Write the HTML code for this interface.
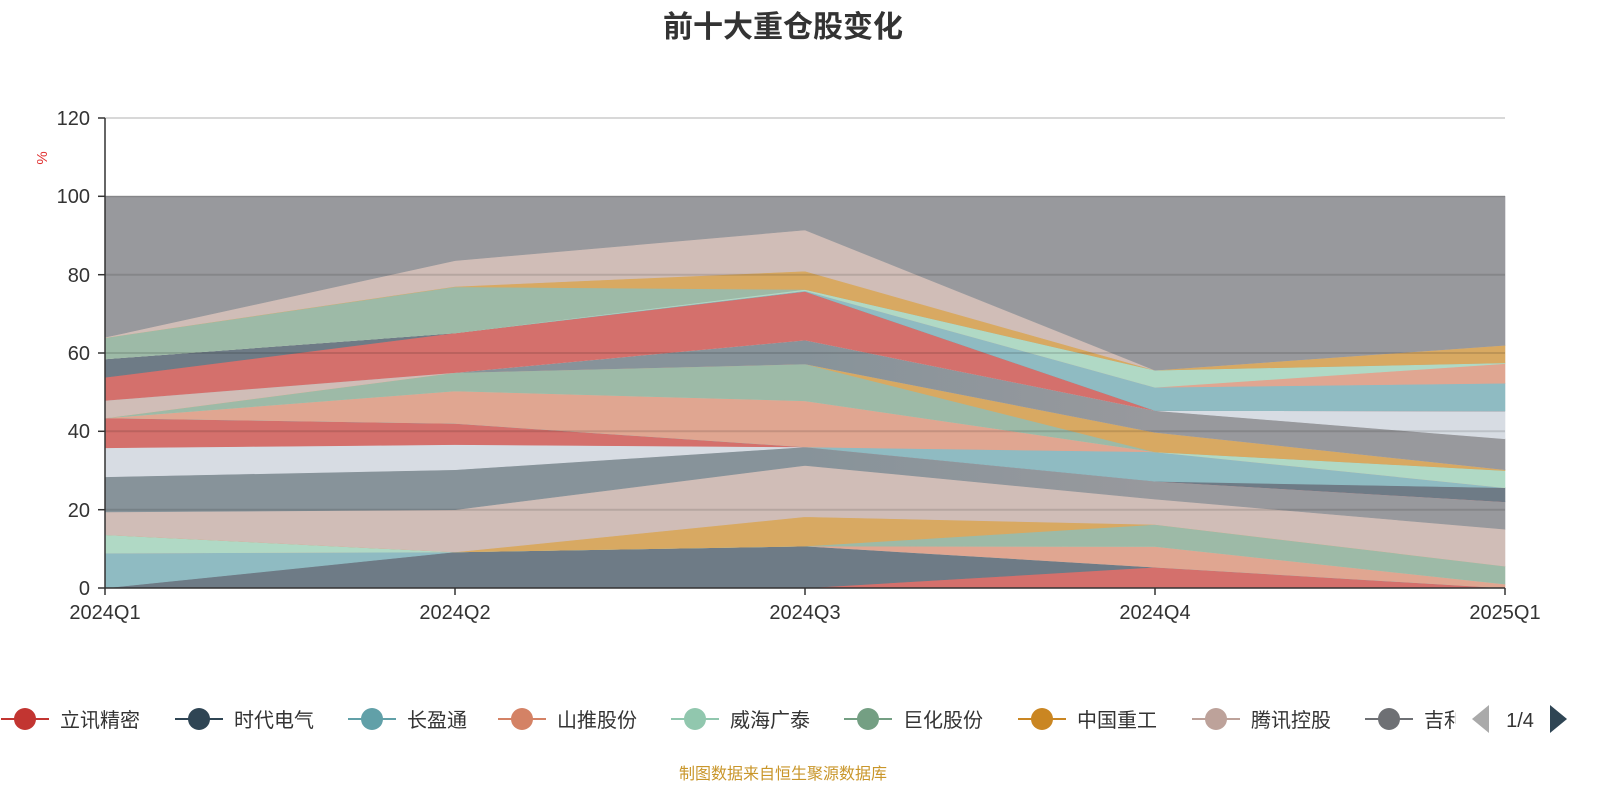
<!DOCTYPE html>
<html><head><meta charset="utf-8"><style>
html,body{margin:0;padding:0;background:#fff;}
svg{display:block;font-family:"Liberation Sans","Noto Sans CJK SC",sans-serif;}
</style></head><body>
<svg id="c" width="1600" height="800" viewBox="0 0 1600 800" xmlns="http://www.w3.org/2000/svg">
<defs>
<linearGradient id="sg" gradientUnits="userSpaceOnUse" x1="105" y1="0" x2="1505" y2="0">
<stop offset="0" stop-color="#87939a"/><stop offset="0.5" stop-color="#87939a"/><stop offset="0.75" stop-color="#98999d"/><stop offset="1" stop-color="#98999d"/>
</linearGradient>
</defs>
<text x="783" y="37" text-anchor="middle" font-size="30" font-weight="bold" fill="#333">前十大重仓股变化</text>
<line x1="105" y1="118" x2="1505" y2="118" stroke="#ccc" stroke-width="1.5"/>
<g id="areas"></g>
<g stroke="rgba(0,0,0,0.12)" stroke-width="2">
<line x1="105" y1="196.3" x2="1505" y2="196.3"/>
<line x1="105" y1="274.7" x2="1505" y2="274.7"/>
<line x1="105" y1="353" x2="1505" y2="353"/>
<line x1="105" y1="431.3" x2="1505" y2="431.3"/>
<line x1="105" y1="509.7" x2="1505" y2="509.7"/>
</g>
<g stroke="#333" stroke-width="1.5">
<line x1="105" y1="118" x2="105" y2="588"/>
<line x1="105" y1="588" x2="1505" y2="588"/>
<line x1="98" y1="118" x2="105" y2="118"/><line x1="98" y1="196.3" x2="105" y2="196.3"/><line x1="98" y1="274.7" x2="105" y2="274.7"/><line x1="98" y1="353" x2="105" y2="353"/><line x1="98" y1="431.3" x2="105" y2="431.3"/><line x1="98" y1="509.7" x2="105" y2="509.7"/><line x1="98" y1="588" x2="105" y2="588"/>
<line x1="105" y1="588" x2="105" y2="595"/><line x1="455" y1="588" x2="455" y2="595"/><line x1="805" y1="588" x2="805" y2="595"/><line x1="1155" y1="588" x2="1155" y2="595"/><line x1="1505" y1="588" x2="1505" y2="595"/>
</g>
<g font-size="20" fill="#333" text-anchor="end">
<text x="90" y="125">120</text><text x="90" y="203">100</text><text x="90" y="282">80</text><text x="90" y="360">60</text><text x="90" y="438">40</text><text x="90" y="517">20</text><text x="90" y="595">0</text>
</g>
<g font-size="20" fill="#333" text-anchor="middle">
<text x="105" y="619">2024Q1</text><text x="455" y="619">2024Q2</text><text x="805" y="619">2024Q3</text><text x="1155" y="619">2024Q4</text><text x="1505" y="619">2025Q1</text>
</g>
<text transform="translate(47,158) rotate(-90)" font-size="15" fill="#e03030" text-anchor="middle">%</text>
<g id="legend" font-size="20" fill="#333"></g>
<text x="1480" y="0" />
<polygon points="1472,719 1489,705 1489,733" fill="#aaa"/>
<text x="1520" y="727" font-size="20" fill="#333" text-anchor="middle">1/4</text>
<polygon points="1567,719 1550,705 1550,733" fill="#2f4554"/>
<text x="783" y="779" text-anchor="middle" font-size="16" fill="#c9962a">制图数据来自恒生聚源数据库</text>
</svg>
<script>
var X=[105,455,805,1155,1505];
function Y(v){return 588-v*3.9167;}
var L=[
["#d4706c",[0,0,0,5.3,0]],
["#6e7b86",[0,9.2,10.7,5.3,0]],
["#8fbbc2",[8.9,9.2,10.7,5.3,0]],
["#e0a691",[8.9,9.2,10.7,10.6,1]],
["#b0d9c5",[13.6,9.2,10.7,10.6,1]],
["#9dbaa7",[13.6,9.2,10.7,16.2,5.6]],
["#d8a962",[13.6,9.2,18.2,16.2,5.6]],
["#d0bdb7",[19.4,20,31.3,22.7,15]],
["url(#sg)",[28.4,30.2,36,27.25,22]],
["#d7dce3",[35.8,36.6,36,27.25,22]],
["#d4706c",[43.4,42,36,27.25,22]],
["#6e7b86",[43.4,42,36,27.25,25.6]],
["#8fbbc2",[43.4,42,36,34.75,25.6]],
["#e0a691",[43.4,50.3,47.8,34.75,25.6]],
["#b0d9c5",[43.4,50.3,47.8,34.75,30]],
["#9dbaa7",[43.4,55,57.2,34.75,30]],
["#d8a962",[43.4,55,57.2,39.75,30.2]],
["#d0bdb7",[47.9,55,57.2,39.75,30.2]],
["url(#sg)",[47.9,55,63.3,45.3,38.1]],
["#d7dce3",[47.9,55,63.3,45.3,45.2]],
["#d4706c",[53.8,65.1,75.7,45.3,45.2]],
["#6e7b86",[58.5,65.1,75.7,45.3,45.2]],
["#8fbbc2",[58.5,65.1,75.9,51.25,52.3]],
["#e0a691",[58.5,65.1,75.9,51.25,57.3]],
["#b0d9c5",[58.5,65.1,76.2,55.6,57.5]],
["#9dbaa7",[63.9,76.9,76.2,55.6,57.5]],
["#d8a962",[63.9,77,80.9,55.6,62]],
["#d0bdb7",[64,83.6,91.4,55.6,62]],
["#98999d",[100,100,100,100,100]]
];
var g=document.getElementById('areas'),prev=[0,0,0,0,0],s='';
L.forEach(function(l){var t=l[1],p=[];
for(var i=0;i<5;i++)p.push(X[i]+','+Y(t[i]).toFixed(1));
for(var i=4;i>=0;i--)p.push(X[i]+','+Y(prev[i]).toFixed(1));
s+='<polygon points="'+p.join(' ')+'" fill="'+l[0]+'" stroke="'+l[0]+'" stroke-width="0.6"/>';prev=t;});
g.innerHTML=s;
var lg=[["立讯精密","#c23531",25],["时代电气","#2f4554",199],["长盈通","#61a0a8",372],["山推股份","#d48265",522],["威海广泰","#91c7ae",695],["巨化股份","#749f83",868],["中国重工","#ca8622",1042],["腾讯控股","#bda29a",1216],["吉利","#6e7074",1389]];
var h='';
lg.forEach(function(a){var c=a[2];
h+='<line x1="'+(c-24)+'" y1="719" x2="'+(c+24)+'" y2="719" stroke="'+a[1]+'" stroke-width="2"/><circle cx="'+c+'" cy="719" r="11" fill="'+a[1]+'"/>';
h+='<text x="'+(c+35)+'" y="727">'+a[0]+'</text>';});
h+='<rect x="1456" y="700" width="60" height="40" fill="#fff"/>';
document.getElementById('legend').innerHTML=h;
</script>
</body></html>
